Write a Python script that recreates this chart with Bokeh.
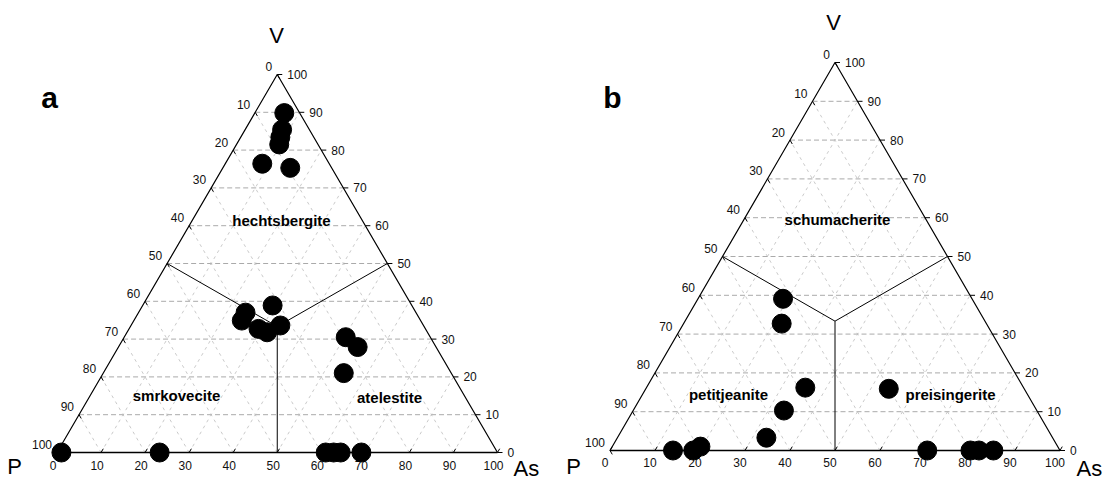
import math
from bokeh.plotting import figure
from bokeh.models import Range1d
from bokeh.core.properties import value
from bokeh.embed import file_html
from bokeh.resources import INLINE

# ---------------- data (ternary %: As and V; P = 100 - As - V) ----------------
ticks = [0, 10, 20, 30, 40, 50, 60, 70, 80, 90, 100]

a_as = [6.7, 8.4, 9.0, 9.7, 8.4, 15.3,
        24.3, 24.5, 29.5, 29.4, 31.8, 33.9,
        50.3, 54.3, 54.6,
        1.0, 23.3, 61.0, 62.8, 64.4, 69.1]
a_v = [89.8, 85.4, 83.4, 81.5, 76.4, 75.3,
       37.0, 34.9, 38.9, 32.7, 31.8, 33.6,
       30.5, 27.9, 21.0,
       0, 0, 0, 0, 0, 0]

b_as = [18.9, 21.8, 35.3, 33.5, 33.1,
        14.0, 18.5, 19.6,
        54.0,
        70.5, 80.1, 82.0, 85.2]
b_v = [39.1, 32.7, 16.2, 10.3, 3.3,
       0, 0, 1.0,
       15.9,
       0, 0, 0, 0]

a_regions = ["hechtsbergite", "smrkovecite", "atelestite"]
b_regions = ["schumacherite", "petitjeanite", "preisingerite"]
vertex_names = ["V", "P", "As"]
panel_letters = ["a", "b"]

# ---------------- layout ----------------
FONT = value("Liberation Sans")
p = figure(width=1104, height=482, x_range=Range1d(0, 1104), y_range=Range1d(482, 0),
           output_backend="svg", toolbar_location=None, min_border=0,
           x_axis_location=None, y_axis_location=None)
p.grid.visible = False
p.outline_line_color = None
p.background_fill_color = "white"


def make_tf(ox, oy, W, H):
    def tf(as_, v):
        return ox + (as_ + v / 2.0) / 100.0 * W, oy - v / 100.0 * H
    return tf


panels = [
    dict(tf=make_tf(56.5, 452, 440.5, 378), as_=a_as, v=a_v, regions=a_regions,
         region_pos=[(281, 220), (176, 395), (389, 397)],
         letter=panel_letters[0], letter_pos=(49, 97),
         vpos=[(276, 35), (14, 466), (513, 468)], boff=-4, byoff=13),
    dict(tf=make_tf(609.5, 450, 450, 388), as_=b_as, v=b_v, regions=b_regions,
         region_pos=[(837, 219), (728, 394), (950, 394)],
         letter=panel_letters[1], letter_pos=(612, 97),
         vpos=[(833, 22), (573, 466), (1076, 468)], boff=-5, byoff=12),
]

for pn in panels:
    tf = pn["tf"]
    # grid lines
    hx, hy, sx, sy = [], [], [], []
    for k in ticks[1:-1]:
        x0, y0 = tf(0, k); x1, y1 = tf(100 - k, k)
        hx.append([x0, x1]); hy.append([y0, y1])
        x0, y0 = tf(k, 0); x1, y1 = tf(k, 100 - k)
        sx.append([x0, x1]); sy.append([y0, y1])
        x0, y0 = tf(100 - k, 0); x1, y1 = tf(0, 100 - k)
        sx.append([x0, x1]); sy.append([y0, y1])
    p.multi_line(hx, hy, line_color="#a0a0a0", line_width=0.9, line_dash="5 3")
    p.multi_line(sx, sy, line_color="#bcbcbc", line_width=0.8, line_dash="3 4")

    # region boundaries
    cx, cy = tf(100 / 3, 100 / 3)
    for a_, v_ in [(0, 50), (50, 50), (50, 0)]:
        ex, ey = tf(a_, v_)
        p.line([ex, cx], [ey, cy], line_color="black", line_width=1)

    # triangle edges
    P0 = tf(0, 0); A0 = tf(100, 0); V0 = tf(0, 100)
    p.line([P0[0], A0[0]], [P0[1], A0[1]], line_color="black", line_width=1.6)
    p.line([P0[0], V0[0], A0[0]], [P0[1], V0[1], A0[1]], line_color="black", line_width=1.2)

    # ticks & tick labels
    tx0, ty0, tx1, ty1 = [], [], [], []
    lx, ly, lt = [], [], []
    rx, ry, rt = [], [], []
    bx, by, bt = [], [], []
    for k in ticks:
        # left edge: P = k  -> point (As=0, V=100-k)
        x, y = tf(0, 100 - k)
        x2, y2 = tf(1.0, 100 - k - 1.0)
        tx0.append(x); ty0.append(y); tx1.append(x2); ty1.append(y2)
        lx.append(x - 5); ly.append(y - 8); lt.append(str(k))
        # right edge: V = k -> point (As=100-k, V=k)
        x, y = tf(100 - k, k)
        tx0.append(x); ty0.append(y); tx1.append(x + 5); ty1.append(y)
        rx.append(x + 10); ry.append(y); rt.append(str(k))
        # bottom: As = k
        x, y = tf(k, 0)
        x2, y2 = tf(k, 1.0)
        tx0.append(x); ty0.append(y); tx1.append(x2); ty1.append(y2)
        bx.append(x + pn["boff"]); by.append(y + pn["byoff"]); bt.append(str(k))
    p.segment(tx0, ty0, tx1, ty1, line_color="black", line_width=1)
    p.text(lx, ly, text=lt, text_font=FONT, text_font_size=value("12px"),
           text_align="right", text_baseline="middle", text_color="#111111")
    p.text(rx, ry, text=rt, text_font=FONT, text_font_size=value("12px"),
           text_align="left", text_baseline="middle", text_color="#111111")
    p.text(bx, by, text=bt, text_font=FONT, text_font_size=value("12px"),
           text_align="center", text_baseline="middle", text_color="#111111")

    # data points
    px, py = [], []
    for a_, v_ in zip(pn["as_"], pn["v"]):
        x, y = tf(a_, v_)
        px.append(x); py.append(y)
    p.scatter(px, py, size=19, fill_color="black", line_color="black")

    # region labels
    p.text([q[0] for q in pn["region_pos"]], [q[1] for q in pn["region_pos"]],
           text=pn["regions"], text_font=FONT, text_font_size=value("15px"),
           text_font_style="bold", text_align="center", text_baseline="middle",
           text_color="black")

    # vertex labels
    vp = pn["vpos"]
    p.text([vp[0][0], vp[1][0]], [vp[0][1], vp[1][1]], text=vertex_names[:2],
           text_font=FONT, text_font_size=value("22px"), text_align="center",
           text_baseline="middle", text_color="black")
    p.text([vp[2][0]], [vp[2][1]], text=[vertex_names[2]],
           text_font=FONT, text_font_size=value("22px"), text_align="left",
           text_baseline="middle", text_color="black")

    # panel letter
    p.text([pn["letter_pos"][0]], [pn["letter_pos"][1]], text=[pn["letter"]],
           text_font=FONT, text_font_size=value("30px"), text_font_style="bold",
           text_align="center", text_baseline="middle", text_color="black")

open("out.html", "w").write(file_html(p, INLINE))
